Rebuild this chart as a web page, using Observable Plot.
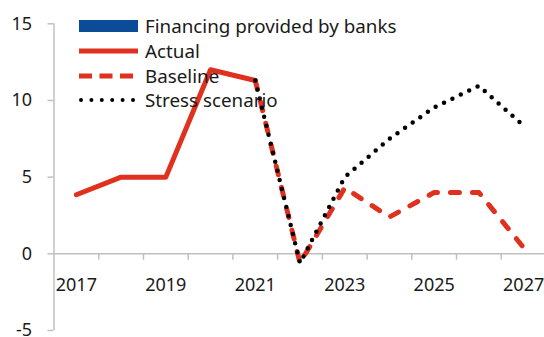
<!DOCTYPE html>
<html><head><meta charset="utf-8">
<script src="https://cdn.jsdelivr.net/npm/d3@7"></script>
<script src="https://cdn.jsdelivr.net/npm/@observablehq/plot@0.6"></script>
<style>
body{margin:0;background:#fff;}
#wrap{position:relative;width:544px;height:337px;overflow:hidden;font-family:"Noto Sans",sans-serif;background:#fff;}
#legend{position:absolute;left:79px;top:14px;}
.row{display:flex;align-items:center;height:24.7px;font-size:18.8px;color:#1a1a1a;white-space:nowrap;}
.row svg{margin-right:7px;flex:none;}
</style></head><body><div id="wrap"><div id="chart"></div><div id="legend"></div></div>
<script>
const years = [2017,2018,2019,2020,2021,2022,2023,2024,2025,2026,2027];
const actualYears = [2017,2018,2019,2020,2021];
const actualValues = [3.85,5.0,5.0,12.0,11.3];
const scenarioYears = [2021,2022,2023,2024,2025,2026,2027];
const baselineValues = [11.3,-0.6,4.3,2.4,4.0,4.0,0.4];
const stressValues = [11.3,-0.6,5.0,7.5,9.55,10.95,8.35];
const yTicks = [-5,0,5,10,15];
const labelYears = [2017,2019,2021,2023,2025,2027];
const legendLabels = ["Financing provided by banks","Actual","Baseline","Stress scenario"];

const RED = "#e0301e", BLUE = "#0b4c99", GRAY = "#c0c0c0", TEXT = "#1a1a1a";
const actual = actualYears.map((x,i)=>({x, y: actualValues[i]}));
const baseline = scenarioYears.map((x,i)=>({x, y: baselineValues[i]}));
const stress = scenarioYears.map((x,i)=>({x, y: stressValues[i]}));
const xDomain = [years[0]-0.5, years[years.length-1]+0.5];
const between = years.slice(1).map(y=>y-0.5);

const chart = Plot.plot({
  width: 544, height: 337,
  marginLeft: 53.5, marginTop: 23.3, marginBottom: 7, marginRight: 0,
  style: {fontFamily: '"Noto Sans", sans-serif', background: "#fff", overflow: "hidden"},
  x: {domain: xDomain, range: [53.5, 545.5], axis: null},
  y: {domain: [-5, 15], range: [330, 23.3], axis: null},
  marks: [
    Plot.ruleX([xDomain[0]], {y1: -5, y2: 15, stroke: GRAY, strokeWidth: 1.5}),
    Plot.ruleY([0], {x1: xDomain[0], x2: xDomain[1], stroke: GRAY, strokeWidth: 1.5}),
    Plot.ruleX(between, {y1: 0, y2: -0.42, stroke: GRAY, strokeWidth: 1.5}),
    Plot.axisY(yTicks, {anchor: "left", label: null, tickSize: 6, tickPadding: 16, fontSize: 18, stroke: GRAY, strokeWidth: 1.5, fill: TEXT, color: TEXT, tickFormat: d => String(d)}),
    Plot.text(labelYears, {x: d => d, y: 0, dy: 31, text: d => String(d), fontSize: 18, fill: TEXT}),
    Plot.line(actual, {x: "x", y: "y", stroke: RED, strokeWidth: 5}),
    Plot.line(baseline, {x: "x", y: "y", stroke: RED, strokeWidth: 5, strokeDasharray: "9 13", strokeLinecap: "round"}),
    Plot.line(stress, {x: "x", y: "y", stroke: "#000", strokeWidth: 4.5, strokeDasharray: "0 9.3", strokeLinecap: "round"})
  ]
});
document.getElementById("chart").appendChild(chart);

const swatches = [
  `<svg width="59" height="14"><rect x="0" y="1" width="59" height="12" fill="${BLUE}"/></svg>`,
  `<svg width="59" height="14"><line x1="0" x2="59" y1="7" y2="7" stroke="${RED}" stroke-width="5"/></svg>`,
  `<svg width="59" height="14"><line x1="0" x2="59" y1="7" y2="7" stroke="${RED}" stroke-width="5" stroke-dasharray="13 7.5"/></svg>`,
  `<svg width="59" height="14"><line x1="2" x2="59" y1="7" y2="7" stroke="#000" stroke-width="4" stroke-linecap="round" stroke-dasharray="0 10.4"/></svg>`
];
document.getElementById("legend").innerHTML = legendLabels.map((t,i)=>
  `<div class="row">${swatches[i]}<span>${t}</span></div>`).join("");
</script></body></html>
